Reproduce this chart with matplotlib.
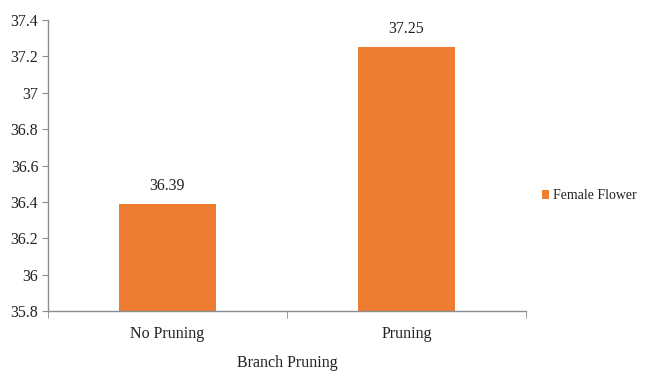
import matplotlib.pyplot as plt
from matplotlib.patches import Patch

plt.rcParams['font.family'] = 'serif'
plt.rcParams['font.serif'] = ['Liberation Serif', 'DejaVu Serif']

categories = ["No Pruning", "Pruning"]
female_flower = [36.39, 37.25]
y_ticks = [35.8, 36, 36.2, 36.4, 36.6, 36.8, 37, 37.2, 37.4]
y_tick_labels = ["35.8", "36", "36.2", "36.4", "36.6", "36.8", "37", "37.2", "37.4"]

bar_color = '#ED7D31'
axis_color = '#8c8c8c'
text_color = '#222222'
fs = 11.5

fig = plt.figure(figsize=(6.45, 3.74), dpi=100)
ax = fig.add_axes([0.0744, 0.1684, 0.7411, 0.7781])

x = range(len(categories))
ax.bar(x, female_flower, width=0.405, color=bar_color, bottom=0)
for xi, v in zip(x, female_flower):
    ax.annotate(f"{v:.2f}", (xi, v), xytext=(0, 13), textcoords='offset points',
                ha='center', va='center', fontsize=fs, color=text_color)

ax.set_xlim(-0.5, 1.5)
ax.set_ylim(35.8, 37.4)
ax.set_yticks(y_ticks)
ax.set_yticklabels(y_tick_labels)
ax.set_xticks(list(x))
ax.set_xticklabels(categories)
ax.set_xticks([-0.5, 0.5, 1.5], minor=True)
ax.tick_params(axis='x', which='major', length=0, pad=11, labelsize=fs, labelcolor=text_color)
ax.tick_params(axis='x', which='minor', length=5, color=axis_color, direction='out')
ax.tick_params(axis='y', length=4, color=axis_color, pad=3, labelsize=fs, labelcolor=text_color)
ax.set_xlabel("Branch Pruning", fontsize=fs, labelpad=9, color=text_color)

for side in ['top', 'right']:
    ax.spines[side].set_visible(False)
for side in ['left', 'bottom']:
    ax.spines[side].set_color(axis_color)
    ax.spines[side].set_linewidth(1)

# legend squeezed into the right margin
handle = Patch(facecolor=bar_color, label="Female Flower")
fig.legend(handles=[handle], loc='center left', bbox_to_anchor=(0.832, 0.476),
           frameon=False, fontsize=10, handlelength=0.5, handleheight=0.7,
           handletextpad=0.3, borderaxespad=0, labelcolor=text_color)

fig.savefig('out.png', dpi=100)
